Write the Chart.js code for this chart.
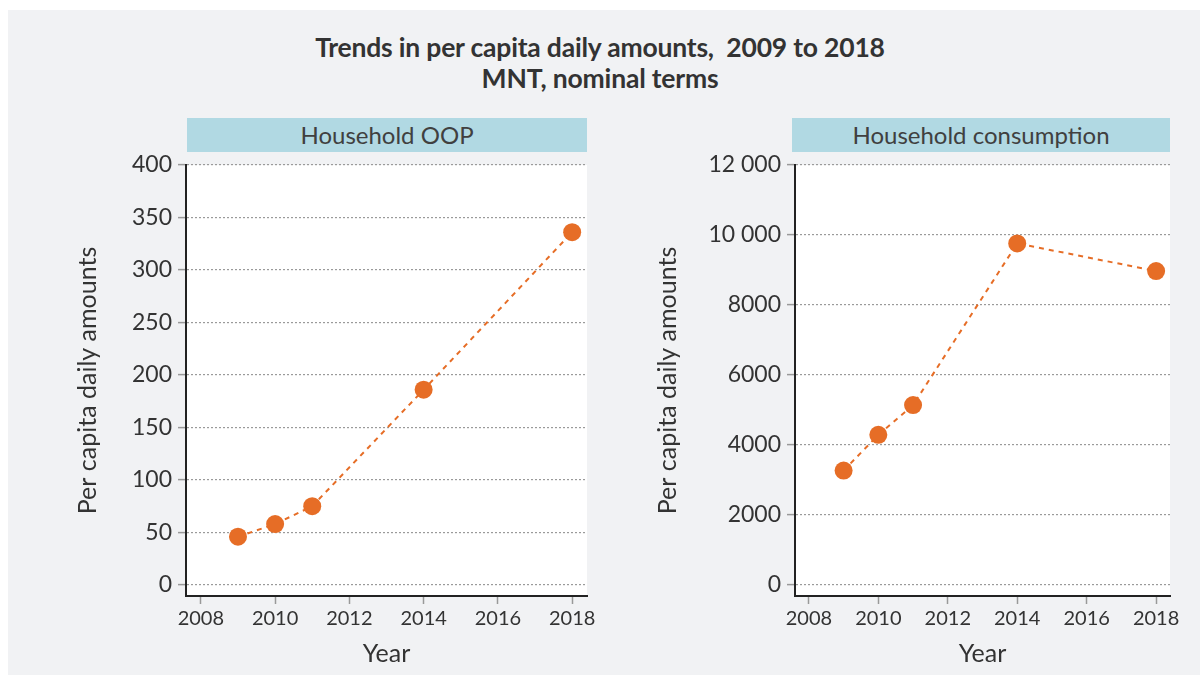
<!DOCTYPE html>
<html>
<head>
<meta charset="utf-8">
<script src="https://cdn.jsdelivr.net/npm/chart.js@4"></script>
<style>
  html, body { margin: 0; padding: 0; background: #ffffff; }
  body { width: 1200px; height: 675px; position: relative; overflow: hidden; font-family: Lato, "Open Sans", sans-serif; }
  #bg { position: absolute; left: 8px; top: 10px; width: 1192px; height: 665px; background: #f1f2f4; }
  .title { position: absolute; left: 0; width: 1200px; text-align: center; font-weight: bold; font-size: 26.5px; line-height: 30px; color: #333; letter-spacing: -0.2px; }
  .hdr { position: absolute; top: 118px; height: 34px; background: #b1d9e3; color: #404040; font-size: 24px; line-height: 34px; text-align: center; }
  canvas { position: absolute; }
</style>
</head>
<body>
<div id="bg"></div>
<div class="title" style="top:32px;">Trends in per capita daily amounts,&nbsp; 2009 to 2018</div>
<div class="title" style="top:63px;">MNT, nominal terms</div>
<div class="hdr" style="left:187px; width:400px;">Household OOP</div>
<div class="hdr" style="left:792px; width:378px;">Household consumption</div>
<div style="position:absolute; left:60px; top:110px; width:560px; height:565px;"><canvas id="c1"></canvas></div>
<div style="position:absolute; left:645px; top:110px; width:555px; height:565px;"><canvas id="c2"></canvas></div>
<script>
const years = [2009, 2010, 2011, 2014, 2018];
const oopValues = [46, 58, 75, 186, 336];
const consumptionValues = [3270, 4290, 5140, 9760, 8970];
const xTicks = [2008, 2010, 2012, 2014, 2016, 2018];
const oopYTicks = [0, 50, 100, 150, 200, 250, 300, 350, 400];
const consYTicks = [0, 2000, 4000, 6000, 8000, 10000, 12000];
const consYLabels = ['0', '2000', '4000', '6000', '8000', '10 000', '12 000'];

const ORANGE = '#e66d26';
const FONT = 'Lato, "Open Sans", sans-serif';

const whiteArea = {
  id: 'whiteArea',
  beforeDraw(chart) {
    const a = chart.chartArea, ctx = chart.ctx;
    ctx.save();
    ctx.fillStyle = '#ffffff';
    ctx.fillRect(a.left, a.top, a.right - a.left, a.bottom - a.top);
    ctx.restore();
  }
};

function makeChart(id, values, yTicks, yLabels, yMin, yMax, yAxisWidth, padRight, yTitlePad) {
  return new Chart(document.getElementById(id), {
    type: 'line',
    data: {
      datasets: [{
        data: years.map((y, i) => ({ x: y, y: values[i] })),
        borderColor: ORANGE,
        borderWidth: 2,
        borderDash: [5, 5],
        pointRadius: 9,
        pointHoverRadius: 9,
        pointBackgroundColor: ORANGE,
        pointBorderColor: ORANGE,
        pointBorderWidth: 0,
        fill: false,
        tension: 0
      }]
    },
    options: {
      responsive: true,
      maintainAspectRatio: false,
      animation: false,
      events: [],
      layout: { padding: { top: 55, right: padRight, left: 0, bottom: 0 } },
      plugins: { legend: { display: false }, tooltip: { enabled: false }, title: { display: false } },
      scales: {
        x: {
          type: 'linear',
          min: 2007.6,
          max: 2018.4,
          afterBuildTicks: (axis) => { axis.ticks = xTicks.map(v => ({ value: v })); },
          afterFit: (axis) => { axis.height = 79; },
          ticks: { color: '#333', font: { family: FONT, size: 20 }, padding: 3, callback: (v) => String(v), maxRotation: 0, autoSkip: false },
          grid: { drawOnChartArea: false, drawTicks: true, tickLength: 8, tickColor: '#999', tickWidth: 1.5 },
          border: { display: true, color: '#222', width: 2 },
          title: { display: true, text: 'Year', color: '#333', font: { family: FONT, size: 25 }, padding: { top: 6, bottom: 6 } }
        },
        y: {
          type: 'linear',
          min: yMin,
          max: yMax,
          afterBuildTicks: (axis) => { axis.ticks = yTicks.map(v => ({ value: v })); },
          afterFit: (axis) => { axis.width = yAxisWidth; },
          ticks: {
            color: '#333', font: { family: FONT, size: 23 }, padding: 6, autoSkip: false,
            callback: (v) => { const i = yTicks.indexOf(v); return i >= 0 ? yLabels[i] : ''; }
          },
          grid: { color: '#9a9a9a', lineWidth: 1.2, tickLength: 8, tickColor: '#999', tickWidth: 1.5, tickBorderDash: [] },
          border: { display: true, color: '#222', width: 2, dash: [2, 2] },
          title: { display: true, text: 'Per capita daily amounts', color: '#333', font: { family: FONT, size: 25 }, padding: { top: yTitlePad, bottom: 0 } }
        }
      }
    },
    plugins: [whiteArea]
  });
}

makeChart('c1', oopValues, oopYTicks, oopYTicks.map(String), -10.5, 400, 126, 33, 13);
makeChart('c2', consumptionValues, consYTicks, consYLabels, -315, 12000, 150, 30, 8);
</script>
</body>
</html>
